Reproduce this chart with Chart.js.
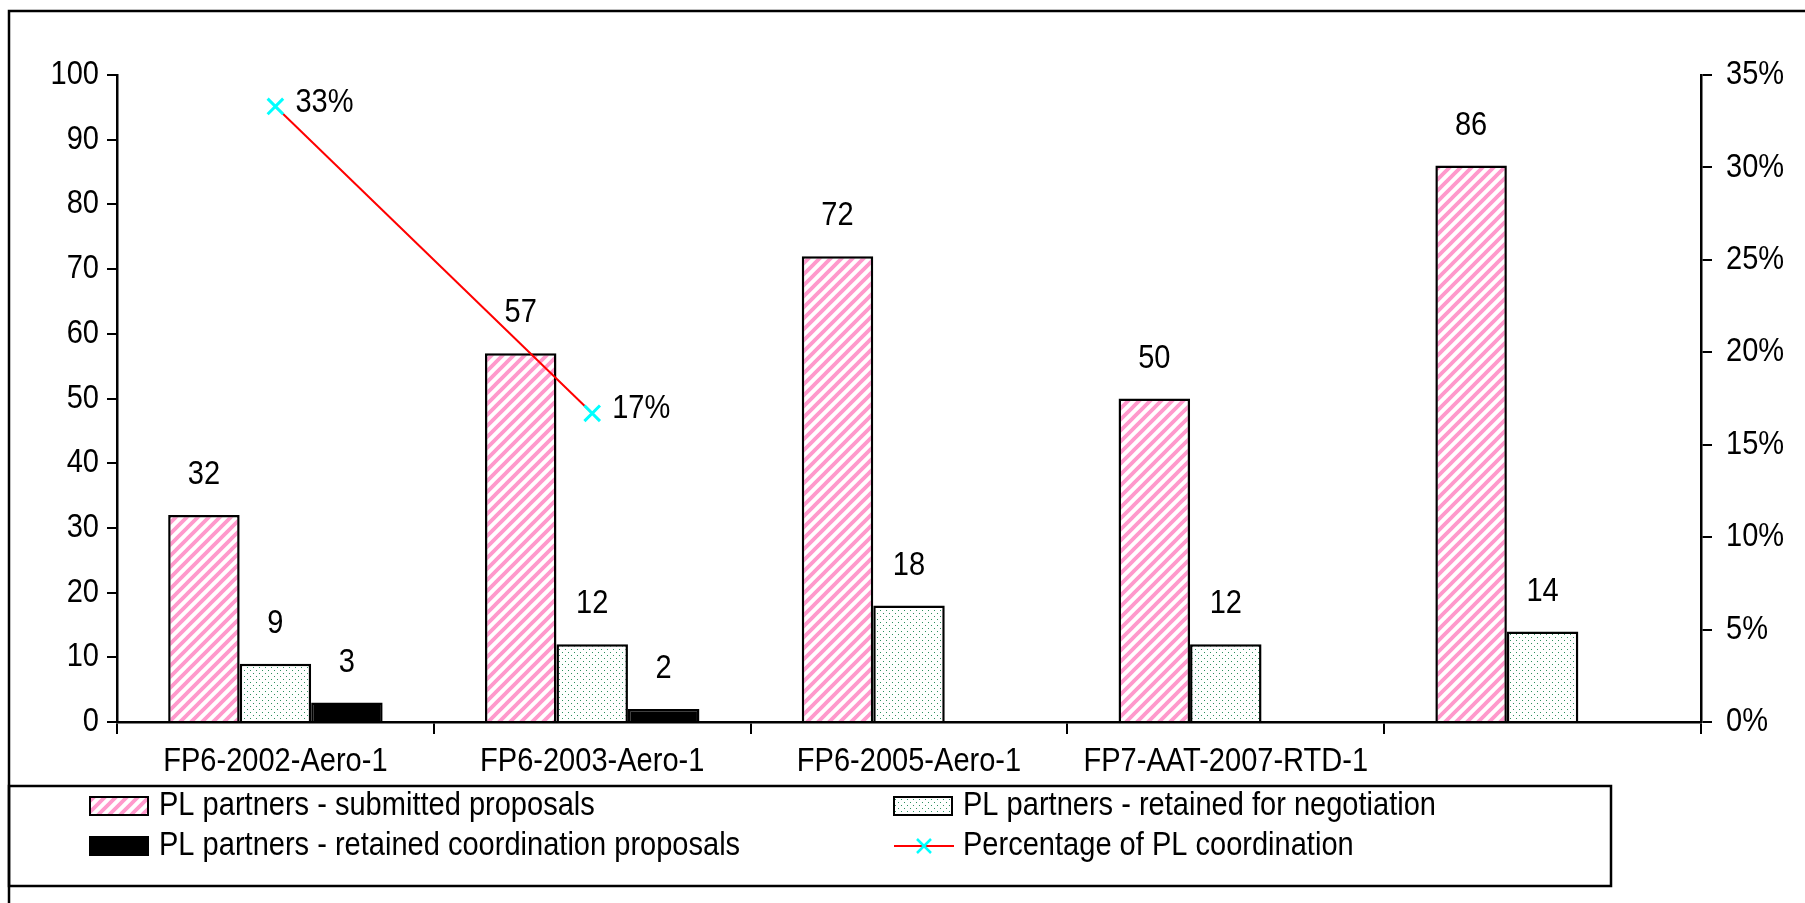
<!DOCTYPE html>
<html>
<head>
<meta charset="utf-8">
<script src="https://cdn.jsdelivr.net/npm/chart.js@4.4.1/dist/chart.umd.min.js"></script>
<style>
  html, body { margin: 0; padding: 0; background: #fff; overflow: hidden; }
  #wrap { position: relative; width: 1805px; height: 903px; }
</style>
</head>
<body>
<div id="wrap"><canvas id="chart"></canvas></div>
<script>
// values
const categories = ['FP6-2002-Aero-1', 'FP6-2003-Aero-1', 'FP6-2005-Aero-1', 'FP7-AAT-2007-RTD-1', ''];
const submitted = [32, 57, 72, 50, 86];
const negotiation = [9, 12, 18, 12, 14];
const coordination = [3, 2, null, null, null];
const coordShare = [0.333, 0.167, null, null, null];

const seriesNames = [
  'PL partners - submitted proposals',
  'PL partners - retained for negotiation',
  'PL partners - retained coordination proposals',
  'Percentage of PL coordination'
];

const FONT_FAMILY = "'Liberation Sans', Arial, sans-serif";
const FONT_SIZE = 33;
const FONT = FONT_SIZE + 'px ' + FONT_FAMILY;
const TEXT_SX = 0.88; // the original text is a bit condensed

function stripePattern() {
  const s = 11;
  const c = document.createElement('canvas');
  c.width = s; c.height = s;
  const g = c.getContext('2d');
  g.fillStyle = '#fff';
  g.fillRect(0, 0, s, s);
  g.strokeStyle = '#ff99cc';
  g.lineWidth = 3.8;
  g.beginPath();
  g.moveTo(-2, s + 2); g.lineTo(s + 2, -2);
  g.moveTo(-2, 2); g.lineTo(2, -2);
  g.moveTo(s - 2, s + 2); g.lineTo(s + 2, s - 2);
  g.stroke();
  return g.createPattern(c, 'repeat');
}

function dotPattern() {
  const c = document.createElement('canvas');
  c.width = 6; c.height = 6;
  const g = c.getContext('2d');
  g.fillStyle = '#fff';
  g.fillRect(0, 0, 6, 6);
  g.fillStyle = '#2e9060';
  g.fillRect(1, 1, 1, 1);
  g.fillRect(4, 4, 1, 1);
  return g.createPattern(c, 'repeat');
}

const pink = stripePattern();
const green = dotPattern();

// squeeze text horizontally on the chart canvas
function condense(ctx) {
  const fill = ctx.fillText.bind(ctx);
  const measure = ctx.measureText.bind(ctx);
  ctx.fillText = function (text, x, y) {
    ctx.save();
    ctx.translate(x, y);
    ctx.scale(TEXT_SX, 1);
    fill(text, 0, 0);
    ctx.restore();
  };
  ctx.measureText = function (text) {
    const m = measure(text);
    return {
      width: m.width * TEXT_SX,
      actualBoundingBoxAscent: m.actualBoundingBoxAscent,
      actualBoundingBoxDescent: m.actualBoundingBoxDescent,
      actualBoundingBoxLeft: m.actualBoundingBoxLeft * TEXT_SX,
      actualBoundingBoxRight: m.actualBoundingBoxRight * TEXT_SX
    };
  };
}

// page frame around the chart
const framePlugin = {
  id: 'frame',
  beforeDraw(chart) {
    const ctx = chart.ctx;
    ctx.save();
    ctx.fillStyle = '#fff';
    ctx.fillRect(0, 0, chart.width, chart.height);
    ctx.strokeStyle = '#000';
    ctx.lineWidth = 2.5;
    ctx.strokeRect(9, 11, 2000, 1000);
    ctx.restore();
  }
};

// numbers above bars and percentages beside the line points
const valueLabels = {
  id: 'valueLabels',
  afterDatasetsDraw(chart) {
    const ctx = chart.ctx;
    ctx.save();
    ctx.font = FONT;
    ctx.fillStyle = '#000';
    ctx.textBaseline = 'middle';
    chart.data.datasets.forEach((ds, i) => {
      const meta = chart.getDatasetMeta(i);
      meta.data.forEach((el, j) => {
        const v = ds.data[j];
        if (v == null) return;
        if (meta.type === 'line') {
          ctx.textAlign = 'left';
          ctx.fillText(Math.round(v * 100) + '%', el.x + 20, el.y - 4);
        } else {
          ctx.textAlign = 'center';
          ctx.fillText(String(v), el.x, el.y - 40);
        }
      });
    });
    ctx.restore();
  }
};

// boxed legend, two columns by two rows
const boxLegend = {
  id: 'boxLegend',
  afterDraw(chart) {
    const ctx = chart.ctx;
    const ds = chart.data.datasets;
    ctx.save();
    ctx.strokeStyle = '#000';
    ctx.lineWidth = 2.5;
    ctx.strokeRect(9, 786, 1602, 100);

    const cols = [90, 894];
    const rows = [806, 846];
    ctx.font = FONT;
    ctx.textAlign = 'left';
    ctx.textBaseline = 'middle';
    seriesNames.forEach((name, n) => {
      const x = cols[n % 2];
      const y = rows[Math.floor(n / 2)];
      const d = ds.find(s => s.label === name);
      if (d.type === 'line') {
        ctx.strokeStyle = d.borderColor;
        ctx.lineWidth = 2;
        ctx.beginPath();
        ctx.moveTo(x, y); ctx.lineTo(x + 60, y);
        ctx.stroke();
        ctx.strokeStyle = d.pointBorderColor;
        ctx.lineWidth = 2.5;
        const r = 7, cx = x + 30;
        ctx.beginPath();
        ctx.moveTo(cx - r, y - r); ctx.lineTo(cx + r, y + r);
        ctx.moveTo(cx + r, y - r); ctx.lineTo(cx - r, y + r);
        ctx.stroke();
      } else {
        ctx.fillStyle = d.backgroundColor;
        ctx.fillRect(x, y - 9, 58, 18);
        ctx.strokeStyle = '#000';
        ctx.lineWidth = 2;
        ctx.strokeRect(x, y - 9, 58, 18);
      }
      ctx.fillStyle = '#000';
      ctx.fillText(d.label, x + 69, y);
    });
    ctx.restore();
  }
};

Chart.defaults.font.family = FONT_FAMILY;
Chart.defaults.font.size = FONT_SIZE;
Chart.defaults.color = '#000';

const tickGrid = { drawOnChartArea: false, drawTicks: true, color: '#000', lineWidth: 2, tickLength: 10 };

const canvas = document.getElementById('chart');
condense(canvas.getContext('2d'));

new Chart(canvas, {
  type: 'bar',
  data: {
    labels: categories,
    datasets: [
      {
        type: 'line',
        label: seriesNames[3],
        data: coordShare,
        yAxisID: 'y1',
        borderColor: '#ff0000',
        borderWidth: 2,
        pointStyle: 'crossRot',
        pointRadius: 11,
        pointBorderColor: '#00ffff',
        pointBorderWidth: 3,
        pointBackgroundColor: '#00ffff',
        spanGaps: false,
        order: 0
      },
      {
        label: seriesNames[0],
        data: submitted,
        backgroundColor: pink,
        borderColor: '#000',
        borderWidth: 2.5,
        order: 1
      },
      {
        label: seriesNames[1],
        data: negotiation,
        backgroundColor: green,
        borderColor: '#000',
        borderWidth: 2.5,
        order: 1
      },
      {
        label: seriesNames[2],
        data: coordination,
        backgroundColor: '#000',
        borderColor: '#000',
        borderWidth: 2.5,
        order: 1
      }
    ]
  },
  options: {
    responsive: true,
    maintainAspectRatio: false,
    animation: false,
    categoryPercentage: 0.677,
    barPercentage: 1,
    layout: { padding: { top: 75, left: 0, right: 0, bottom: 0 } },
    plugins: {
      legend: { display: false },
      tooltip: { enabled: false }
    },
    scales: {
      x: {
        grid: Object.assign({}, tickGrid, { tickLength: 12 }),
        border: { color: '#000', width: 2.5 },
        ticks: { padding: 8, maxRotation: 0, autoSkip: false },
        afterFit(s) { s.height = 181; }
      },
      y: {
        position: 'left',
        min: 0,
        max: 100,
        grid: tickGrid,
        border: { color: '#000', width: 2.5 },
        ticks: { stepSize: 10, padding: 8 },
        afterFit(s) { s.width = 117; }
      },
      y1: {
        position: 'right',
        min: 0,
        max: 0.35,
        grid: Object.assign({}, tickGrid, { tickLength: 11 }),
        border: { color: '#000', width: 2.5 },
        ticks: {
          stepSize: 0.05,
          padding: 14,
          callback: v => Math.round(v * 100) + '%'
        },
        afterFit(s) { s.width = 104; }
      }
    }
  },
  plugins: [framePlugin, valueLabels, boxLegend]
});
</script>
</body>
</html>
